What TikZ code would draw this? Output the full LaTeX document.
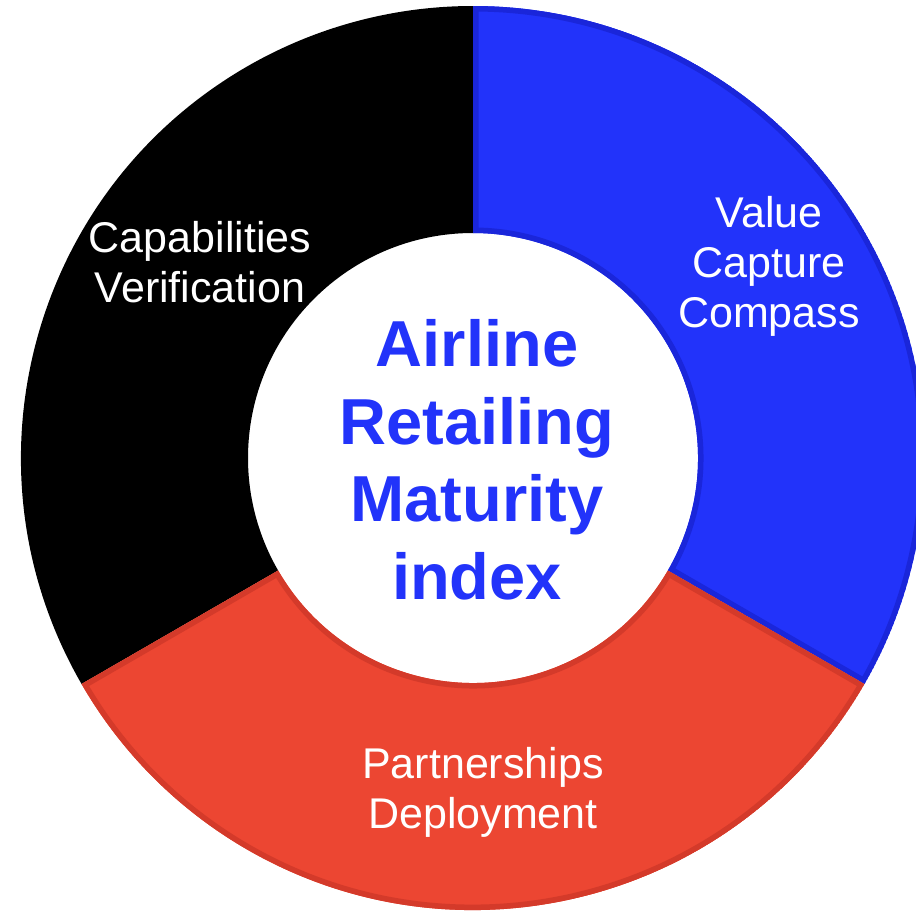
\documentclass[tikz,border=0pt]{standalone}
\usepackage{fontspec}
\setmainfont{Liberation Sans}
\usetikzlibrary{calc}
\definecolor{segblue}{RGB}{34,51,250}
\definecolor{segblueedge}{RGB}{26,38,218}
\definecolor{segred}{RGB}{236,70,50}
\definecolor{segrededge}{RGB}{212,58,42}
\definecolor{titleblue}{RGB}{34,51,250}
% ring sector between two angles (y axis points down, so angles run clockwise)
\newcommand\ringsector[2]{($(c)+(#1:\Ro)$) arc[start angle=#1,end angle=#2,radius=\Ro]
  -- ($(c)+(#2:\Ri)$) arc[start angle=#2,end angle=#1,radius=\Ri] -- cycle}
\begin{document}
\begin{tikzpicture}[x=1pt,y=-1pt,
  seglabel/.style={text=white,align=center,font=\fontsize{43}{50}\selectfont,inner sep=0pt,anchor=base},
  titletext/.style={text=titleblue,align=center,font=\bfseries\fontsize{65}{77.5}\selectfont,inner sep=0pt,anchor=base}]
\useasboundingbox (0,0) rectangle (916,913);
\coordinate (c) at (473,458);
\def\Ro{452}
\def\Ri{225}
% black sector
\fill[black] \ringsector{150}{270};
% blue sector with inner edge
\begin{scope}
  \clip \ringsector{-90}{30};
  \fill[segblue] \ringsector{-90}{30};
  \draw[segblueedge,line width=11pt] \ringsector{-90}{30};
\end{scope}
% red sector with inner edge
\begin{scope}
  \clip \ringsector{30}{150};
  \fill[segred] \ringsector{30}{150};
  \draw[segrededge,line width=11pt] \ringsector{30}{150};
\end{scope}
% labels (base anchor sits on the last line)
\node[seglabel] (vcc) at (769,327) {Value\\Capture\\Compass};
\node[seglabel] (cv) at (200,302) {Capabilities\\Verification};
\node[seglabel] (pd) at (483,828) {Partnerships\\Deployment};
\node[titletext] (armi) at (477,599) {Airline\\Retailing\\Maturity\\index};
\end{tikzpicture}
\end{document}
